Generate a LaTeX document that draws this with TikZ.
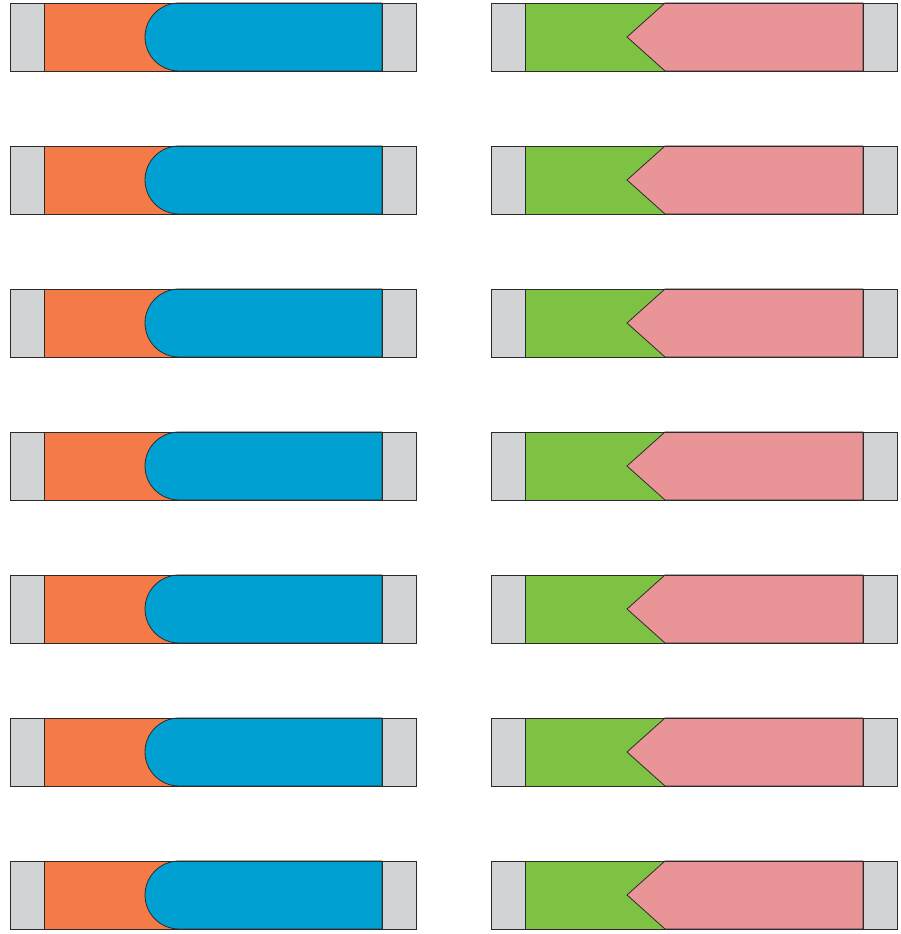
\documentclass[tikz,border=0pt]{standalone}
\definecolor{cgray}{HTML}{D1D3D4}
\definecolor{corange}{HTML}{F47B48}
\definecolor{cblue}{HTML}{00A0D2}
\definecolor{cgreen}{HTML}{7DC242}
\definecolor{cpink}{HTML}{E99497}
\definecolor{cline}{HTML}{2B2B2B}
\begin{document}
\begin{tikzpicture}[x=1pt,y=1pt,
  part/.style={draw=cline,line width=0.8pt,line join=miter}]
\useasboundingbox (0,0) rectangle (901,934);
\foreach \i in {0,...,6}{
  \pgfmathsetmacro{\T}{931-143*\i}
  \pgfmathsetmacro{\B}{\T-68}
  \pgfmathsetmacro{\M}{\T-34}
  % left bar
  \fill[cgray] (10,\B) rectangle (44,\T);
  \fill[corange] (44,\B) rectangle (180,\T);
  \path[part,fill=cblue] (179,\T) -- (382,\T) -- (382,\B) -- (179,\B)
     arc[start angle=-90,end angle=-270,radius=34] -- cycle;
  \draw[part] (44,\B) -- (44,\T);
  \draw[part] (10,\B) rectangle (416,\T);
  \path[part,fill=cgray] (382,\B) rectangle (416,\T);
  % right bar
  \fill[cgray] (491,\B) rectangle (525,\T);
  \fill[cgreen] (525,\B) rectangle (666,\T);
  \path[part,fill=cpink] (665,\T) -- (863,\T) -- (863,\B) -- (665,\B) -- (627,\M) -- cycle;
  \draw[part] (525,\B) -- (525,\T);
  \draw[part] (491,\B) rectangle (897,\T);
  \path[part,fill=cgray] (863,\B) rectangle (897,\T);
}
\end{tikzpicture}
\end{document}
